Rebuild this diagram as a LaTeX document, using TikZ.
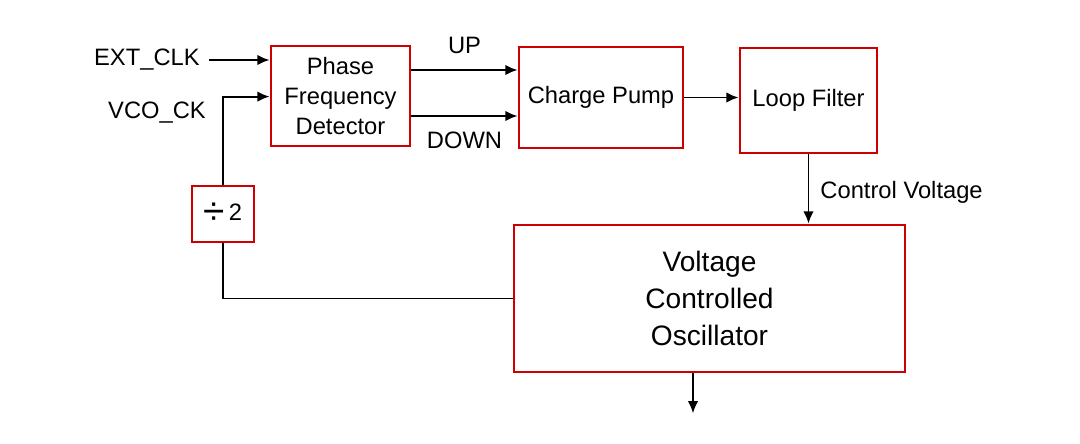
\documentclass[tikz,border=0pt]{standalone}
\usepackage{fontspec}
\setmainfont{Liberation Sans}
\usetikzlibrary{arrows.meta, positioning, calc}
\tikzset{
  pllbox/.style={
    rectangle, minimum width=#1, minimum height=2.0cm,
    text centered, align=center, font=\fontsize{13.5}{17}\selectfont,
    draw=red!80!black, line width=1.6pt, inner sep=2pt
  },
  sigarrow/.style={-{Latex[length=7pt,width=6pt]}, line width=1.1pt, color=black},
  sigline/.style={line width=1.1pt, color=black},
  siglabel/.style={font=\fontsize{13.5}{16}\selectfont, inner sep=0pt},
}

\begin{document}
\begin{tikzpicture}
    \useasboundingbox (0,0) rectangle (21.6,-8.86);
    \node[pllbox=2.78cm](pfd)at(6.81,-1.92){Phase\\Frequency\\Detector};
    \node[pllbox=3.28cm,minimum height=2.02cm](cp)at(12.02,-1.95){Charge Pump};
    \node[pllbox=2.74cm,minimum height=2.1cm](lf)at(16.17,-2.01){Loop Filter};
    \node[pllbox=7.82cm,minimum height=2.94cm,
          font=\fontsize{16}{21}\selectfont](vco)at(14.19,-5.97)
         {Voltage\\Controlled\\Oscillator};
    \node[pllbox=1.24cm,minimum height=1.12cm](div)at(4.46,-4.28)
         {\raisebox{-2.5pt}{\fontsize{22}{22}\selectfont ÷}\,2};
    \node[siglabel,anchor=east](ext)at(4.0,-1.2){EXT\_CLK};
    \node[siglabel](vck)at(3.14,-2.26){VCO\_CK};
    \coordinate (up)   at ($(pfd.east)+(0,0.52)$);
    \coordinate (down) at ($(pfd.east)+(0,-0.40)$);
    \coordinate (fb)   at ($(div.north)+(0,1.76)$);
    \coordinate (vout) at ($(vco.south)+(-0.33,0)$);
    \coordinate (out)  at ($(vout)+(0,-0.8)$);
    \draw[sigarrow]([xshift=5pt]ext.east)--(ext.east -| pfd.west);
    \draw[sigline](vco.west)-|(div.south);
    \draw[sigarrow](div.north)--(fb)--(fb -| pfd.west);
    \draw[sigarrow](up)--(up -| cp.west)
         node[siglabel,midway,above=0.3cm]{UP};
    \draw[sigarrow](down)--(down -| cp.west)
         node[siglabel,midway,below=0.3cm]{DOWN};
    \draw[sigarrow](cp.east)--(cp.east -| lf.west);
    \draw[sigarrow](lf.south)--(lf.south |- vco.north)
         node[siglabel,pos=0.55,right=0.22cm]{Control Voltage};
    \draw[sigarrow](vout)--(out);
\end{tikzpicture}
\end{document}
